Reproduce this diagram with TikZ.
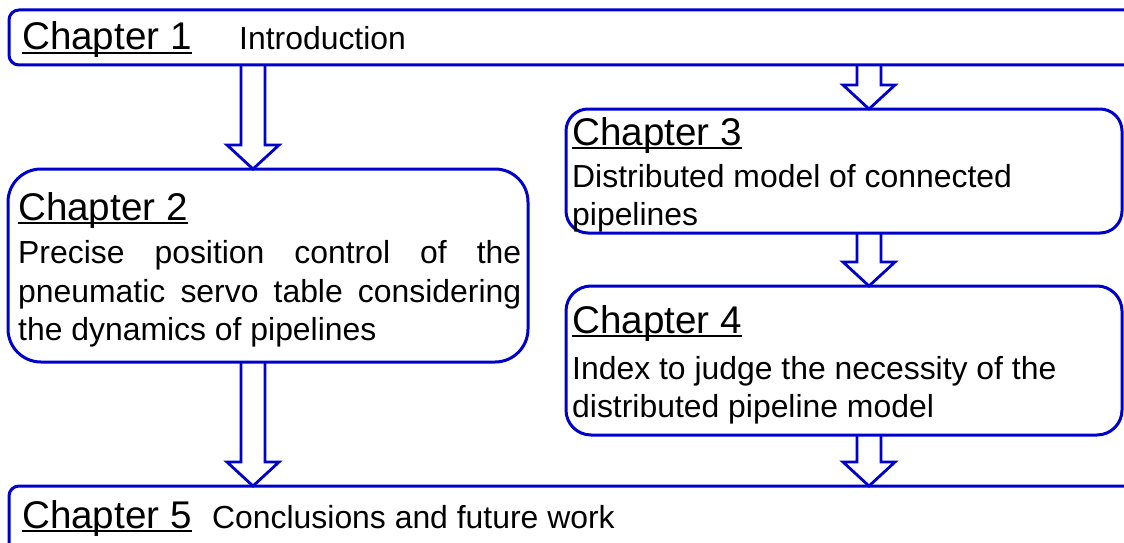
\documentclass[tikz,border=0pt]{standalone}
\usepackage{fontspec}
\setmainfont{Liberation Sans}
\usetikzlibrary{calc}

\definecolor{chapblue}{RGB}{0,0,204}

% heading with a low underline that the descenders cross
\newcommand\chapul[1]{\setbox0\hbox{#1}\rlap{\rule[-4pt]{\wd0}{2pt}}\box0}

% hollow block arrow from the bottom of one box to the top of the next
\newcommand\chaparrow[3]{%
    \draw[blockarrow] let \p1=(#2.south), \p2=(#3.north) in
        (#1pt-12pt,\y1) -- (#1pt-12pt,\y2+24pt) -- (#1pt-26pt,\y2+24pt) -- (#1pt,\y2)
        -- (#1pt+26pt,\y2+24pt) -- (#1pt+12pt,\y2+24pt) -- (#1pt+12pt,\y1);
}

\begin{document}
\begin{tikzpicture}[
    x=1pt, y=-1pt,
    chapbox/.style={draw=chapblue, line width=3pt, inner sep=0pt, outer sep=0pt},
    blockarrow/.style={draw=chapblue, line width=2.8pt},
    head/.style={anchor=base west, inner sep=0pt, font=\fontsize{38.6}{44}\selectfont},
    body/.style={anchor=base west, inner sep=0pt, font=\fontsize{31.9}{38}\selectfont}
]
    \def\colL{253}  % arrows on the left column
    \def\colR{869}  % arrows on the right column
    \clip (0,0) rectangle (1124,543);

    % chapter boxes
    \node[chapbox, rounded corners=10pt, minimum width=1126pt, minimum height=55pt] (ch1) at (572,37.5) {};
    \node[chapbox, rounded corners=33pt, minimum width=520pt, minimum height=193pt] (ch2) at (268,265.5) {};
    \node[chapbox, rounded corners=22pt, minimum width=556pt, minimum height=124pt] (ch3) at (844,171) {};
    \node[chapbox, rounded corners=25pt, minimum width=556pt, minimum height=149pt] (ch4) at (844,360.5) {};
    \node[chapbox, rounded corners=10pt, minimum width=1126pt, minimum height=89pt] (ch5) at (572,530.5) {};

    % texts
    \node[head] (h1) at (22,50) {\chapul{Chapter 1}};
    \node[body] (b1) at (239,50) {Introduction};

    \node[head] (h2) at (18,220) {\chapul{Chapter 2}};
    \node[body] (b2a) at (18,263) {\makebox[503pt][s]{Precise position control of the}};
    \node[body] (b2b) at (18,302) {\makebox[503pt][s]{pneumatic servo table considering}};
    \node[body] (b2c) at (18,340) {the dynamics of pipelines};

    \node[head] (h3) at (572,145) {\chapul{Chapter 3}};
    \node[body] (b3a) at (572,187) {Distributed model of connected};
    \node[body] (b3b) at (572,225) {pipelines};

    \node[head] (h4) at (572,333) {\chapul{Chapter 4}};
    \node[body] (b4a) at (572,379) {Index to judge the necessity of the};
    \node[body] (b4b) at (572,417) {distributed pipeline model};

    \node[head] (h5) at (22,528) {\chapul{Chapter 5}};
    \node[body] (b5) at (212,528) {Conclusions and future work};

    % arrows
    \chaparrow{\colL}{ch1}{ch2}
    \chaparrow{\colR}{ch1}{ch3}
    \chaparrow{\colR}{ch3}{ch4}
    \chaparrow{\colL}{ch2}{ch5}
    \chaparrow{\colR}{ch4}{ch5}
\end{tikzpicture}
\end{document}
